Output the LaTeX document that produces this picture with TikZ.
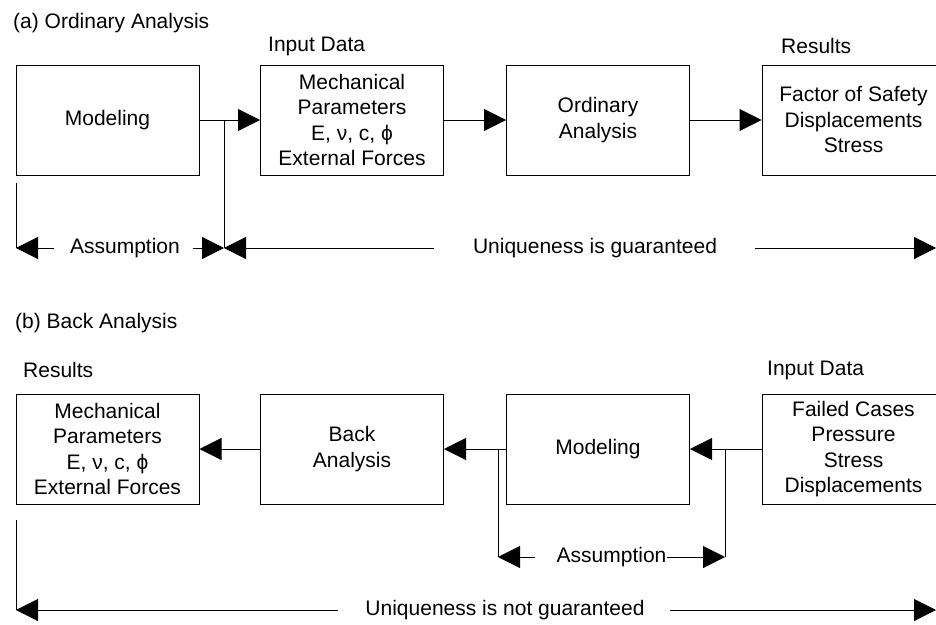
\documentclass[tikz,border=0pt]{standalone}
\usepackage{fontspec}
\setmainfont{Liberation Sans}
\usetikzlibrary{arrows.meta}
\newcommand\dfont{\fontsize{21}{25.5}\selectfont}
\begin{document}
\begin{tikzpicture}[x=1pt,y=-1pt,
  box/.style={draw,line width=1pt,minimum width=183pt,minimum height=110pt,align=center,inner sep=0pt,font=\dfont},
  lbl/.style={inner sep=0pt,anchor=west,font=\dfont},
  txt/.style={inner sep=0pt,font=\dfont},
  ln/.style={line width=1pt},
  arr/.style={line width=1pt,-{Triangle[length=22pt,width=22pt]}}]
\useasboundingbox (0,0) rectangle (936,624);
\clip (0,0) rectangle (936,624);
\fill[white] (0,0) rectangle (936,624);

% ---------- (a) ----------
\node[lbl] (ta) at (13,23) {(a) Ordinary Analysis};
\node[lbl] (inA) at (268,46) {Input Data};
\node[lbl] (resA) at (781,46) {Results};

\node[box] (m1) at (107.5,120) {Modeling};
\node[box] (p1) at (352,120) {Mechanical\\Parameters\\E, ν, c, ϕ\\External Forces};
\node[box] (o1) at (598,120) {Ordinary\\Analysis};
\node[box] (r1) at (853.5,120) {Factor of Safety\\Displacements\\Stress};

\coordinate (j1) at (224,120);
\draw[arr] (m1.east) -- (p1.west);
\draw[arr] (p1.east) -- (o1.west);
\draw[arr] (o1.east) -- (r1.west);

\coordinate (aTop) at (16,183);
\coordinate (aL) at (16,248);
\coordinate (aR) at (224,248);
\coordinate (uR) at (936,248);
\node[txt] (as1) at (125,248) {Assumption};
\node[txt] (u1) at (595,248) {Uniqueness is guaranteed};
\draw[ln] (aTop) -- (aL);
\draw[ln] (j1) -- (aR);
\draw[arr] ([xshift=-16pt]as1.west) -- (aL);
\draw[arr] ([xshift=13pt]as1.east) -- (aR);
\draw[arr] ([xshift=-39pt]u1.west) -- (aR);
\draw[arr] ([xshift=38pt]u1.east) -- (uR);

% ---------- (b) ----------
\node[lbl] (tb) at (15,323) {(b) Back Analysis};
\node[lbl] (resB) at (23,370) {Results};
\node[lbl] (inB) at (767,370) {Input Data};

\node[box] (p2) at (107.5,449) {Mechanical\\Parameters\\E, ν, c, ϕ\\External Forces};
\node[box] (b2) at (352,449) {Back\\Analysis};
\node[box] (m2) at (598,449) {Modeling};
\node[box] (f2) at (853.5,449) {Failed Cases\\Pressure\\Stress\\Displacements};

\draw[arr] (b2.west) -- (p2.east);
\draw[arr] (m2.west) -- (b2.east);
\draw[arr] (f2.west) -- (m2.east);

\coordinate (j2) at (498,449);
\coordinate (j3) at (725,449);
\coordinate (bL) at (498,557);
\coordinate (bR) at (725,557);
\node[txt] (as2) at (611.5,557) {Assumption};
\draw[ln] (j2) -- (bL);
\draw[ln] (j3) -- (bR);
\draw[arr] ([xshift=-21pt]as2.west) -- (bL);
\draw[arr] (as2.east) -- (bR);

\coordinate (cTop) at (16,520);
\coordinate (cL) at (16,610);
\coordinate (cR) at (936,610);
\node[txt] (u2) at (505,610) {Uniqueness is not guaranteed};
\draw[ln] (cTop) -- (cL);
\draw[arr] ([xshift=-27pt]u2.west) -- (cL);
\draw[arr] ([xshift=25pt]u2.east) -- (cR);
\end{tikzpicture}
\end{document}
